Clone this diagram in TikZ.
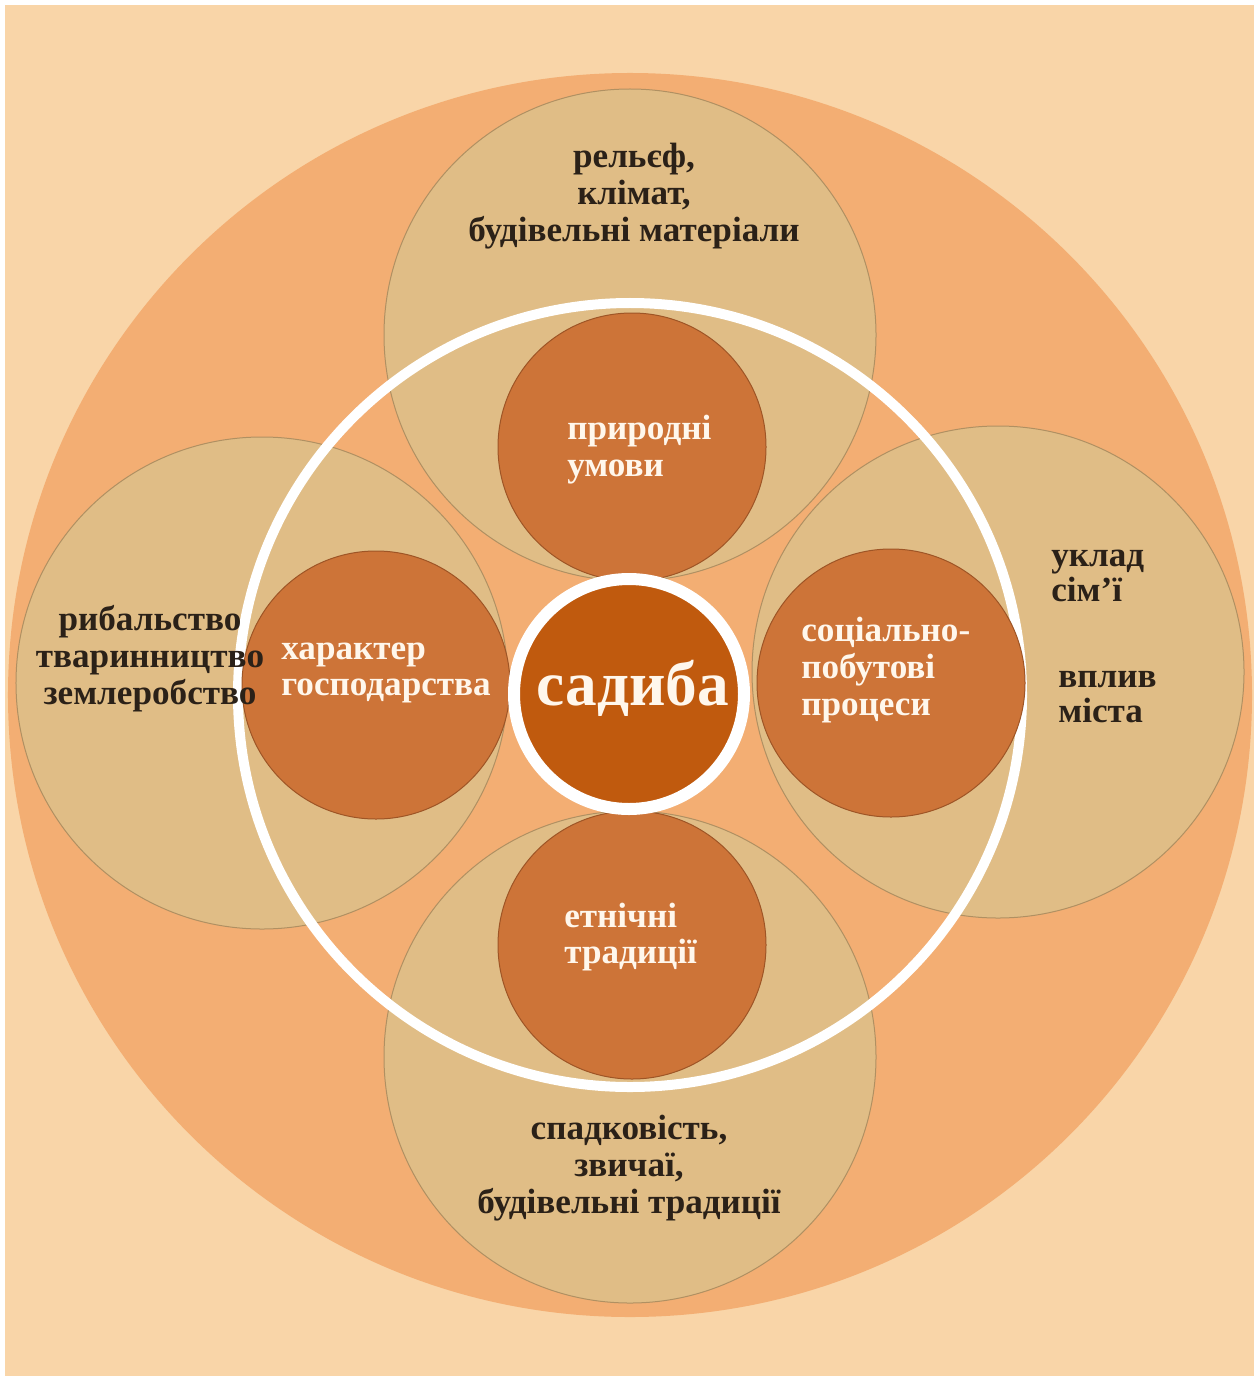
\documentclass[tikz,border=0pt]{standalone}
\usepackage{fontspec}
\setmainfont{Liberation Serif}

\definecolor{paper}{HTML}{F9D5A8}
\definecolor{region}{HTML}{F3AE73}
\definecolor{sand}{HTML}{E0BD86}
\definecolor{sandline}{HTML}{B09062}
\definecolor{rust}{HTML}{CD7438}
\definecolor{rustline}{HTML}{9E5526}
\definecolor{ember}{HTML}{C05A0E}
\definecolor{ink}{HTML}{2B2118}
\definecolor{cream}{HTML}{FFF7EC}

\tikzstyle{field}=[circle,fill=sand,draw=sandline,line width=0.2mm,minimum size=98.4mm,inner sep=0pt]
\tikzstyle{factor}=[circle,fill=rust,draw=rustline,line width=0.2mm,minimum size=53.6mm,inner sep=0pt]
\tikzstyle{outer text}=[text=ink,font=\fontsize{20}{21}\selectfont\bfseries,align=center,inner sep=0pt]
\tikzstyle{side text}=[text=ink,font=\fontsize{20}{19.5}\selectfont\bfseries,align=left,anchor=west,inner sep=0pt]
\tikzstyle{inner text}=[text=cream,font=\fontsize{20}{21}\selectfont\bfseries,align=left,anchor=west,inner sep=0pt]

\begin{document}
\begin{tikzpicture}[x=0.2mm,y=-0.2mm]
	\useasboundingbox (0,0) rectangle (1259,1380);
	\fill[white] (0,0) rectangle (1259,1380);
	\fill[paper] (5,5) rectangle (1254,1376);
	\node[circle,fill=region,minimum size=248.8mm,inner sep=0pt] (region) at (630,695) {};
	% four outer fields
	\foreach \name/\x/\y in {nature/630/335, economy/262/683, family/998/672, heritage/630/1057}
		\node[field] (\name) at (\x,\y) {};
	% white ring
	\node[circle,draw=white,line width=2mm,minimum size=156.8mm,inner sep=0pt] (ring) at (630,695) {};
	% inner factors
	\foreach \name/\x/\y in {natural/632/447, farming/376/685, social/891/683, ethnic/632/945}
		\node[factor] (\name) at (\x,\y) {};
	% core
	\node[circle,fill=ember,draw=white,line width=2.4mm,minimum size=46mm,inner sep=0pt] (core) at (629,694) {};
	% texts
	\node[outer text] (relief) at (634,196) {рельєф,\\клімат,\\будівельні матеріали};
	\node[inner text] (conditions) at (567,450) {природні\\умови};
	\node[outer text] (crafts) at (150,659) {рибальство\\тваринництво\\землеробство};
	\node[inner text] (household) at (281,673) {характер\\господарства};
	\node[inner text] (everyday) at (801,670) {соціально-\\побутові\\процеси};
	\node[side text] (kin) at (1051,576) {уклад\\сім’ї};
	\node[side text] (town) at (1058,697) {вплив\\міста};
	\node[inner text] (traditions) at (564,937) {етнічні\\традиції};
	\node[outer text] (customs) at (629,1168) {спадковість,\\звичаї,\\будівельні традиції};
	\node[text=cream,font=\fontsize{36}{40}\selectfont\bfseries,anchor=base,inner sep=0pt] (sadyba) at (633,705) {садиба};
\end{tikzpicture}
\end{document}
